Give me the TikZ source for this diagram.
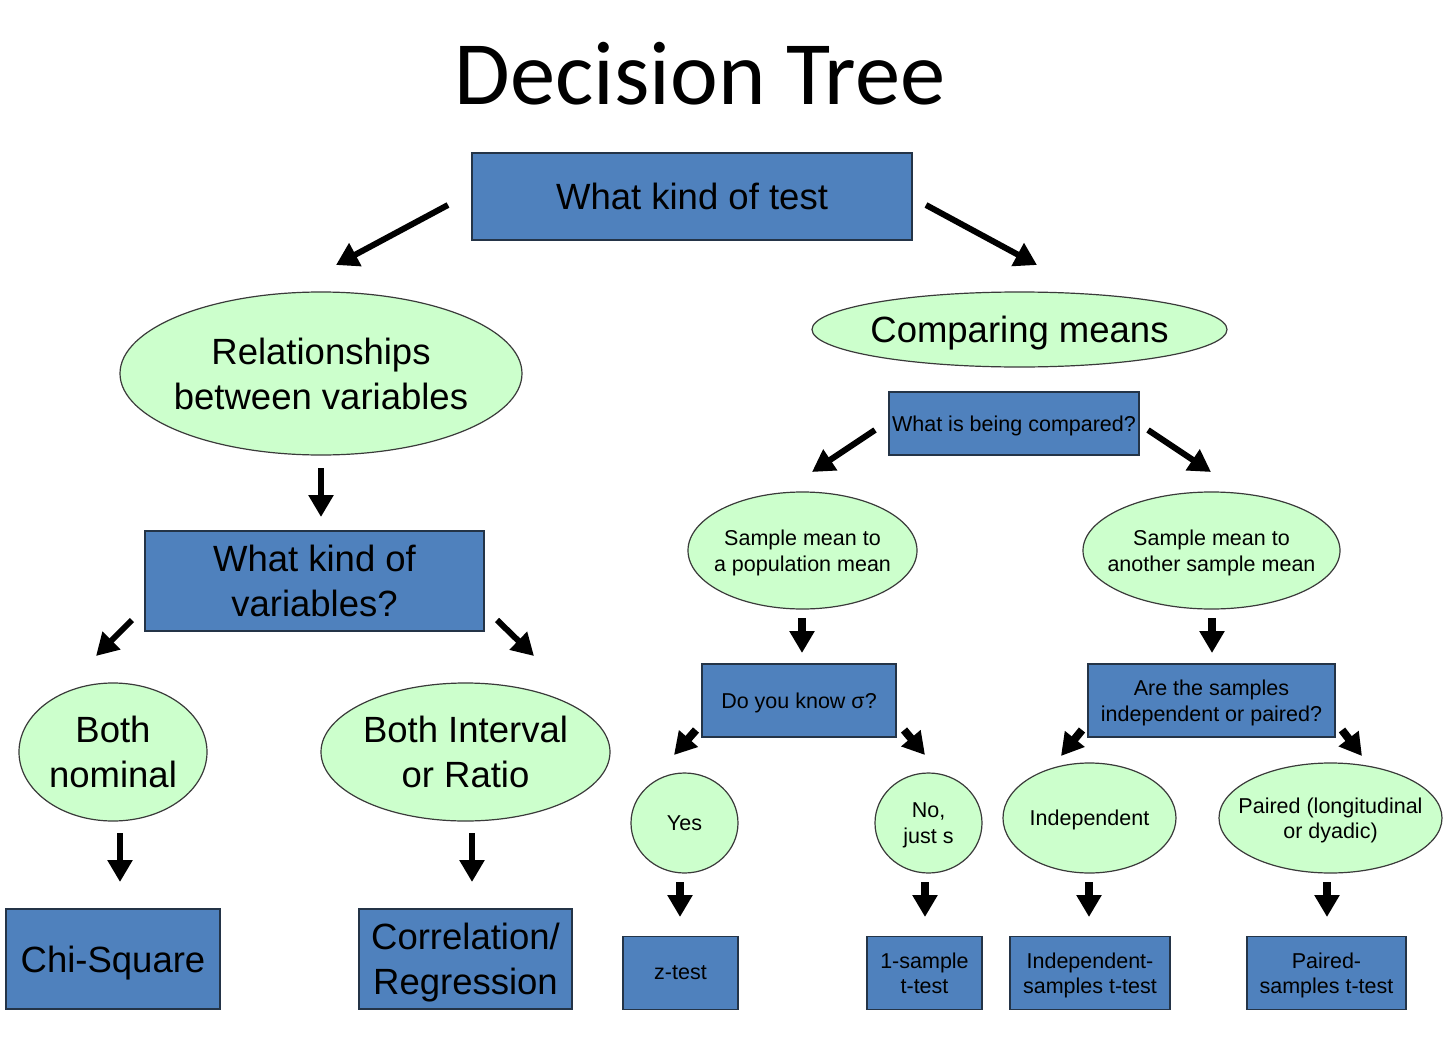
\documentclass[tikz,border=0pt]{standalone}
\usepackage{fontspec}
\setmainfont{Liberation Sans}
\newfontfamily\titlefont{Carlito}
\usetikzlibrary{shapes.geometric,arrows.meta}
\definecolor{boxblue}{HTML}{4F81BD}
\definecolor{boxedge}{HTML}{243447}
\definecolor{ovalgreen}{HTML}{CCFFCC}
\definecolor{ovaledge}{HTML}{3A3A3A}
\tikzset{
  qbox/.style={rectangle, fill=boxblue, draw=boxedge, line width=1.5pt, inner sep=0pt, align=center, text=black, text depth=0pt},
  oval/.style={ellipse, fill=ovalgreen, draw=ovaledge, line width=1.2pt, inner sep=-40pt, align=center, text=black, text depth=0pt},
  bigtxt/.style={font=\fontsize{36.5}{45}\selectfont},
  smalltxt/.style={font=\fontsize{21.5}{25.5}\selectfont},
  bigarrow/.style={line width=6pt, -{Triangle[length=22pt,width=25pt]}},
  smallarrow/.style={line width=8pt, -{Triangle[length=22pt,width=24pt]}},
}
\begin{document}
\begin{tikzpicture}[x=1pt,y=-1pt]
\useasboundingbox (0,0) rectangle (1452,1052);
\fill[white] (0,0) rectangle (1452,1052);
% title
\node[font=\titlefont\fontsize{90.5}{100}\selectfont, anchor=base] (title) at (700,104) {Decision Tree};
% top box
\node[qbox, bigtxt, minimum width=440pt, minimum height=87pt] (test) at (692,196.5) {What kind of test};
% left branch
\node[oval, bigtxt, minimum width=402pt, minimum height=163pt] (rel) at (321,373.5) {Relationships\\between variables};
\node[qbox, bigtxt, minimum width=339pt, minimum height=100pt] (vars) at (314.5,581) {What kind of\\variables?};
\node[oval, bigtxt, minimum width=188pt, minimum height=138pt] (nom) at (113,752) {Both\\nominal};
\node[oval, bigtxt, minimum width=289pt, minimum height=138pt] (int) at (465.5,752) {Both Interval\\or Ratio};
\node[qbox, bigtxt, minimum width=214pt, minimum height=100pt] (chi) at (113,959) {Chi-Square};
\node[qbox, bigtxt, minimum width=213pt, minimum height=100pt] (corr) at (465.5,959) {Correlation/\\Regression};
% right branch
\node[oval, bigtxt, minimum width=415pt, minimum height=75pt] (comp) at (1019.5,329.5) {Comparing means};
\node[qbox, smalltxt, minimum width=250pt, minimum height=63pt] (what) at (1014,423.5) {What is being compared?};
\node[oval, smalltxt, minimum width=229pt, minimum height=117pt] (pop) at (802.5,550.5) {Sample mean to\\a population mean};
\node[oval, smalltxt, minimum width=257pt, minimum height=117pt] (oth) at (1211.5,550.5) {Sample mean to\\another sample mean};
\node[qbox, smalltxt, minimum width=194pt, minimum height=73pt] (sig) at (799,700.5) {Do you know σ?};
\node[qbox, smalltxt, minimum width=247pt, minimum height=73pt] (samp) at (1211.5,700.5) {Are the samples\\independent or paired?};
\node[oval, smalltxt, minimum width=107pt, minimum height=100pt] (yes) at (684.5,823) {Yes};
\node[oval, smalltxt, minimum width=107pt, minimum height=100pt] (no) at (928.5,823) {No,\\just s};
\node[oval, smalltxt, minimum width=173pt, minimum height=110pt] (ind) at (1089.5,818) {Independent};
\node[oval, smalltxt, minimum width=223pt, minimum height=110pt] (pair) at (1330.5,818) {Paired (longitudinal\\or dyadic)};
\node[qbox, smalltxt, minimum width=115pt, minimum height=73pt] (z) at (680.5,973) {z-test};
\node[qbox, smalltxt, minimum width=115pt, minimum height=73pt] (one) at (924.5,973) {1-sample\\t-test};
\node[qbox, smalltxt, minimum width=160pt, minimum height=73pt] (indt) at (1090,973) {Independent-\\samples t-test};
\node[qbox, smalltxt, minimum width=159pt, minimum height=73pt] (pairt) at (1326.5,973) {Paired-\\samples t-test};
% arrow end points
\coordinate (a1s) at (448,205); \coordinate (a1e) at (336,265);
\coordinate (a2s) at (926,205); \coordinate (a2e) at (1037,265);
\coordinate (a3s) at (321,468); \coordinate (a3e) at (321,517);
\coordinate (a4s) at (132,620); \coordinate (a4e) at (96,656);
\coordinate (a5s) at (497,620); \coordinate (a5e) at (534,656);
\coordinate (a6s) at (120,833); \coordinate (a6e) at (120,882);
\coordinate (a7s) at (472,833); \coordinate (a7e) at (472,882);
\coordinate (a8s) at (875,430); \coordinate (a8e) at (812,472);
\coordinate (a9s) at (1148,430); \coordinate (a9e) at (1211,472);
\coordinate (a10s) at (802,618); \coordinate (a10e) at (802,653);
\coordinate (a11s) at (1212,618); \coordinate (a11e) at (1212,653);
\coordinate (a12s) at (696,730); \coordinate (a12e) at (674,755);
\coordinate (a13s) at (904,730); \coordinate (a13e) at (925,755);
\coordinate (a14s) at (1082,730); \coordinate (a14e) at (1061,756);
\coordinate (a15s) at (1342,730); \coordinate (a15e) at (1362,756);
\coordinate (a16s) at (680,882); \coordinate (a16e) at (680,917);
\coordinate (a17s) at (925,882); \coordinate (a17e) at (925,917);
\coordinate (a18s) at (1089,882); \coordinate (a18e) at (1089,917);
\coordinate (a19s) at (1327,882); \coordinate (a19e) at (1327,917);
\draw[bigarrow] (a1s) -- (a1e);
\draw[bigarrow] (a2s) -- (a2e);
\draw[smallarrow, line width=6pt] (a3s) -- (a3e);
\draw[smallarrow, line width=6pt] (a4s) -- (a4e);
\draw[smallarrow, line width=6pt] (a5s) -- (a5e);
\draw[smallarrow, line width=6pt] (a6s) -- (a6e);
\draw[smallarrow, line width=6pt] (a7s) -- (a7e);
\draw[smallarrow, line width=6pt] (a8s) -- (a8e);
\draw[smallarrow, line width=6pt] (a9s) -- (a9e);
\draw[smallarrow] (a10s) -- (a10e);
\draw[smallarrow] (a11s) -- (a11e);
\draw[smallarrow] (a12s) -- (a12e);
\draw[smallarrow] (a13s) -- (a13e);
\draw[smallarrow] (a14s) -- (a14e);
\draw[smallarrow] (a15s) -- (a15e);
\draw[smallarrow] (a16s) -- (a16e);
\draw[smallarrow] (a17s) -- (a17e);
\draw[smallarrow] (a18s) -- (a18e);
\draw[smallarrow] (a19s) -- (a19e);
\end{tikzpicture}
\end{document}
